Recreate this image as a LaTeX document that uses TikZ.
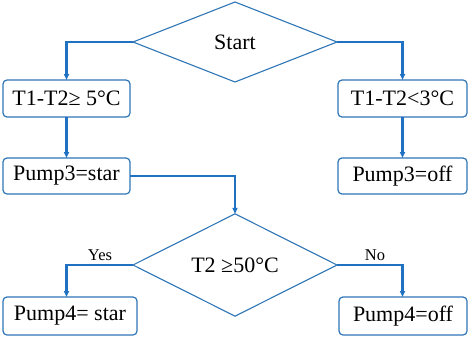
\documentclass[tikz,border=0pt]{standalone}
\usepackage{fontspec}
\setmainfont{Liberation Serif}
\usetikzlibrary{shapes.geometric,arrows.meta}
\definecolor{shapeblue}{HTML}{2E75B6}
\definecolor{lineblue}{HTML}{2171C2}
\begin{document}
\begin{tikzpicture}[x=1pt,y=1pt,
  box/.style={draw=shapeblue, line width=1.2pt, rounded corners=4pt, minimum width=128pt, minimum height=37pt, inner sep=0pt, outer sep=0pt, font=\fontsize{22}{24}\selectfont},
  dec/.style={draw=shapeblue, line width=1.1pt, shape=diamond, minimum width=204pt, minimum height=80pt, inner sep=0pt, outer sep=0pt, font=\fontsize{22}{24}\selectfont},
  conn/.style={draw=lineblue, line width=2.2pt, -{Triangle[length=6pt,width=5pt]}},
  lbl/.style={font=\fontsize{16.5}{18}\selectfont, inner sep=0pt}]
\useasboundingbox (0,0) rectangle (470,-337);
\node[dec] (d1) at (235,-42) {Start};
\node[box, minimum width=127pt] (b1) at (66.5,-98.5) {T1-T2≥ 5°C};
\node[box, minimum width=127pt, minimum height=36pt] (b2) at (66.5,-176) {Pump3=star};
\node[box, minimum width=129pt] (b3) at (402.5,-98.5) {T1-T2<3°C};
\node[box, minimum width=129pt, minimum height=36pt] (b4) at (402.5,-176) {Pump3=off};
\node[dec] (d2) at (235,-265) {T2 ≥50°C};
\node[box, minimum width=134pt, minimum height=38pt] (b5) at (70,-316) {Pump4= star};
\node[box, minimum height=38pt] (b6) at (403,-316) {Pump4=off};
\node[lbl] (yes) at (100,-255) {Yes};
\node[lbl] (no) at (375,-255) {No};
\draw[conn] (d1.west) -| (b1.north);
\draw[conn] (d1.east) -| (b3.north);
\draw[conn] (b1.south) -- (b2.north);
\draw[conn] (b3.south) -- (b4.north);
\draw[conn] (b2.east) -| (d2.north);
\draw[conn] (d2.west) -| (b5.north -| b1.north);
\draw[conn] (d2.east) -| (b6.north -| b3.north);
\end{tikzpicture}
\end{document}
